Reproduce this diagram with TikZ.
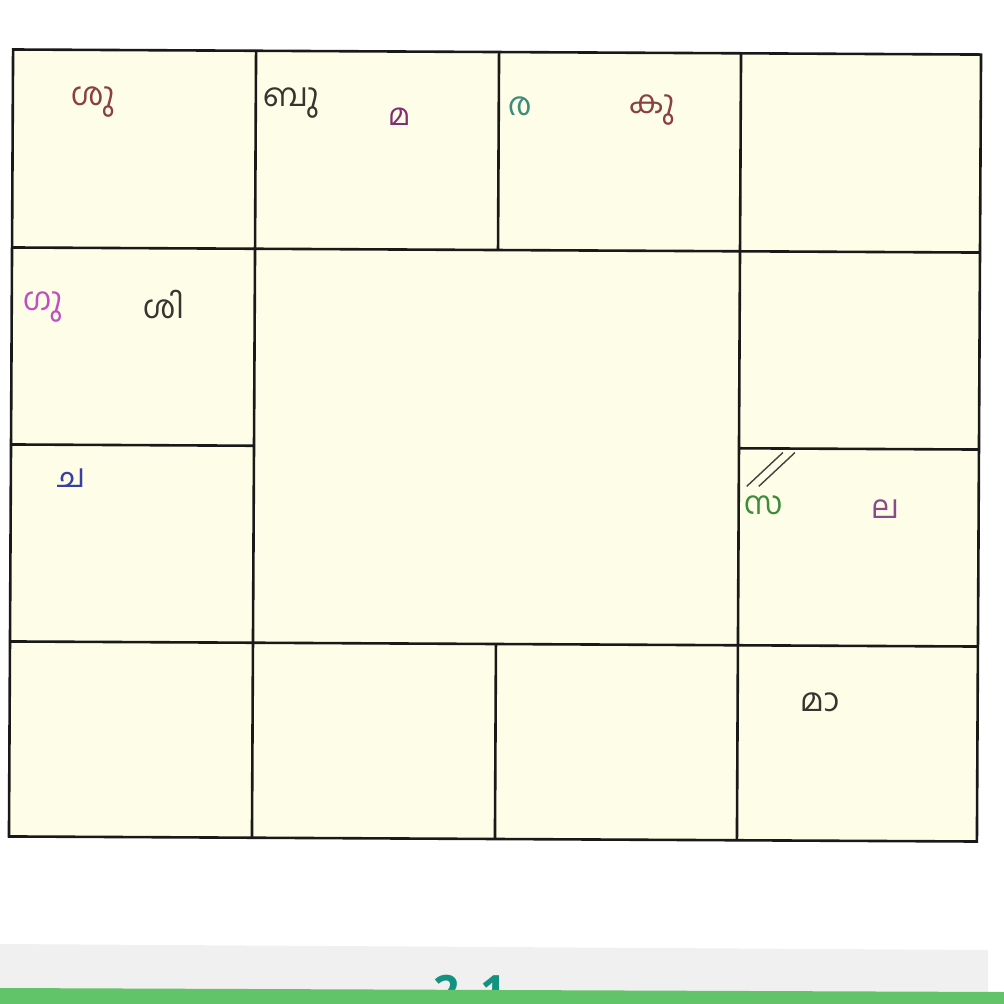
\documentclass[tikz,border=0pt]{standalone}
\usepackage{fontspec}
\newfontfamily\malfont[Script=Malayalam]{Hind Kochi}
\newfontfamily\headfont{Open Sans}
\usepackage{xcolor}
\definecolor{chartbg}{HTML}{FEFEE8}
\definecolor{bandgray}{HTML}{F0F0F0}
\definecolor{bandgreen}{HTML}{62C468}
\definecolor{headteal}{HTML}{13937F}
\definecolor{grahabrown}{HTML}{8B4040}
\definecolor{grahadark}{HTML}{383430}
\definecolor{grahapurple}{HTML}{803070}
\definecolor{grahateal}{HTML}{3C8C7C}
\definecolor{grahapink}{HTML}{C050C0}
\definecolor{grahablue}{HTML}{3840A0}
\definecolor{grahagreen}{HTML}{3C8C3C}
\definecolor{grahaplum}{HTML}{8B4A8B}

\begin{document}
\begin{tikzpicture}[x=1pt,y=-1pt,
  graha/.style={font=\malfont\fontsize{32}{34}\selectfont,inner sep=0pt,anchor=base west},
  grahasmall/.style={font=\malfont\fontsize{30}{32}\selectfont,inner sep=0pt,anchor=base west},
  gridline/.style={line width=2.6pt,black!90}]
\useasboundingbox (0,0) rectangle (1004,1004);
% bands at the foot of the page
\fill[bandgray] (0,944) -- (988,950) -- (988,1004) -- (0,1004) -- cycle;
\node[font=\headfont\bfseries\fontsize{46}{50}\selectfont,text=headteal,anchor=base west,inner sep=0pt] (fignum) at (433,1008) {2.\kern8pt 1};
\fill[bandgreen] (0,988) -- (1004,992) -- (1004,1004) -- (0,1004) -- cycle;
% the chart
\begin{scope}[rotate around={-0.3:(495,445)}]
\fill[chartbg] (11,52) rectangle (979,839);
\draw[gridline] (11,52) rectangle (979,839);
\draw[gridline] (11,250) -- (979,250);
\draw[gridline] (11,644) -- (979,644);
\draw[gridline] (11,447) -- (254,447);
\draw[gridline] (739,447) -- (979,447);
\draw[gridline] (254,52) -- (254,839);
\draw[gridline] (739,52) -- (739,839);
\draw[gridline] (497,52) -- (497,250);
\draw[gridline] (497,644) -- (497,839);
% planets
\node[graha,text=grahabrown] (shukra) at (69,108) {ശു};
\node[graha,text=grahadark] (budha) at (261,108) {ബു};
\node[grahasmall,text=grahapurple] (mandi) at (386,126) {മ};
\node[graha,text=grahateal] (rahu) at (506,115) {ര};
\node[graha,text=grahabrown] (kuja) at (627,113) {കു};
\node[graha,text=grahapink] (guru) at (22,313) {ഗു};
\node[graha,text=grahadark] (shani) at (142,320) {ശി};
\node[graha,text=grahablue] (chandra) at (57,490) {ച};
\node[graha,text=grahagreen] (surya) at (744,513) {സ};
\node[graha,text=grahaplum] (lagna) at (871,517) {ല};
\node[graha,text=grahadark] (maandi) at (801,710) {മാ};
% lagna mark
\coordinate (markA) at (747,485);
\coordinate (markB) at (783,451);
\coordinate (markC) at (759,485);
\coordinate (markD) at (795,451);
\draw[black!75,line width=1.4pt] (markA) -- (markB);
\draw[black!75,line width=1.4pt] (markC) -- (markD);
\end{scope}
\end{tikzpicture}
\end{document}
